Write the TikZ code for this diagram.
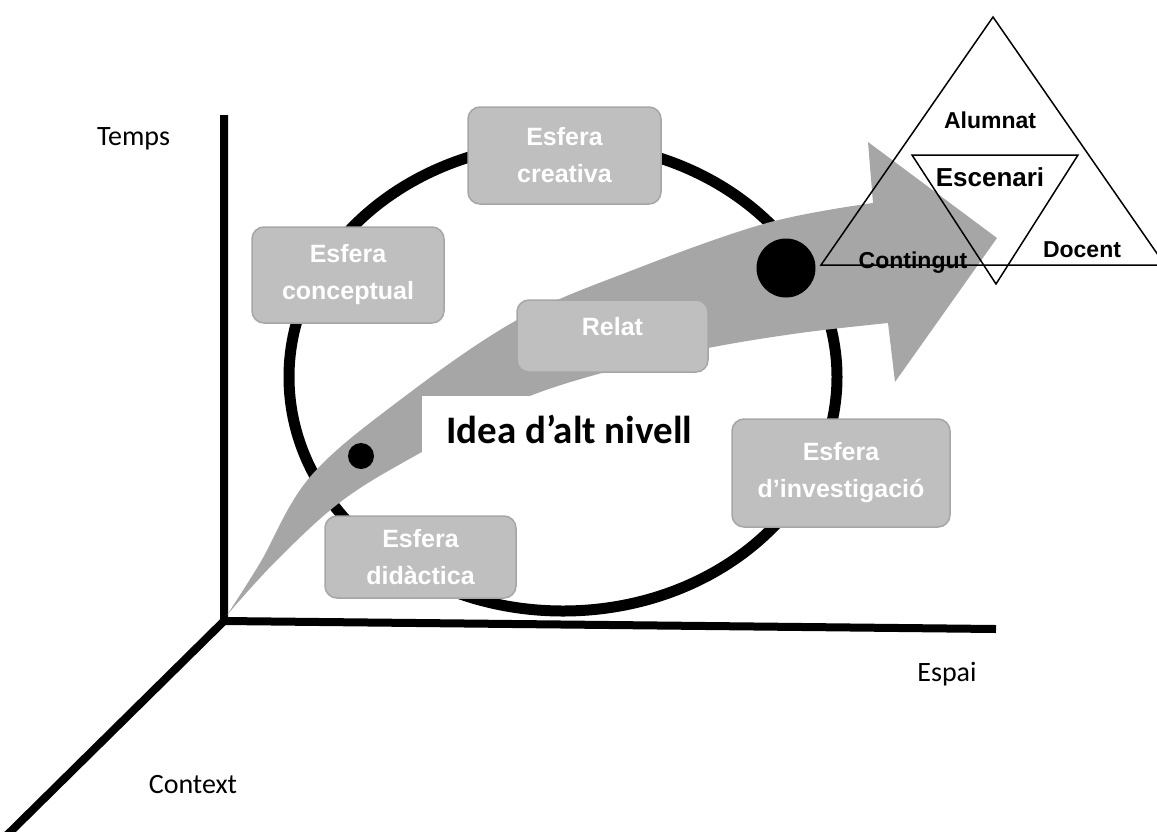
\documentclass[tikz,border=0pt]{standalone}
\usepackage{fontspec}
\setmainfont{Carlito}
\newfontfamily\arialfont{Liberation Sans}
\usepackage{xcolor}
\usepackage{tikz}
\usetikzlibrary{shapes,arrows,positioning}
\definecolor{boxgray}{HTML}{BFBFBF}
\definecolor{boxline}{HTML}{A6A6A6}
\definecolor{flowgray}{HTML}{A6A6A6}

\begin{document}
\begin{tikzpicture}[x=1pt, y=-1pt]
    \tikzstyle{axis} = [line width=8pt, black]
    \tikzstyle{ring} = [line width=11pt, black]
    \tikzstyle{sphere} = [rectangle, rounded corners=12pt, fill=boxgray, draw=boxline, line width=1.5pt, text=white, inner sep=0pt, align=center, font=\arialfont\bfseries\fontsize{25}{37}\selectfont]
    \tikzstyle{axislabel} = [anchor=base, font=\fontsize{28}{34}\selectfont]
    \tikzstyle{dot} = [circle, fill=black, inner sep=0pt]
    \tikzstyle{tri} = [line width=1.5pt, black, line join=miter]
    \tikzstyle{trilabel} = [anchor=base, font=\arialfont\bfseries\fontsize{23}{28}\selectfont]

    \useasboundingbox (0,0) rectangle (1157,831);

    % axes
    \coordinate (origin) at (224,621);
    \coordinate (tempsend) at (224,115);
    \coordinate (espaiend) at (996,629);
    \coordinate (contextend) at (0,842);
    \draw [axis] (tempsend) -- (origin) -- (espaiend);
    \draw [axis] (origin) -- (contextend);

    \node [axislabel] (temps) at (133.5,145) {Temps};
    \node [axislabel] (espai) at (947,681) {Espai};
    \node [axislabel] (context) at (193,793) {Context};

    % cycle of spheres
    \draw [ring] (563,377) ellipse [x radius=274pt, y radius=234pt];

    % flow arrow
    \fill [flowgray] plot [smooth, tension=0.6] coordinates {(227,615) (260,563) (310,477) (400,400) (517,320) (633,270) (767,223) (873,203)}
        -- (868,142) -- (997,238) -- (895,382)
        -- plot [smooth, tension=0.6] coordinates {(888,323) (800,333) (708,348) (620,368) (520,400) (420,453) (343,500) (277,560) (227,615)} -- cycle;

    \node [fill=white, minimum width=294pt, minimum height=67pt, inner sep=0pt, anchor=north west, font=\bfseries\fontsize{39}{47}\selectfont] (idea) at (422,396) {Idea d’alt nivell};

    \node [dot, minimum size=26pt] (startdot) at (361,456) {};
    \node [dot, minimum size=59pt] (enddot) at (786,268) {};

    \node [sphere, minimum width=193pt, minimum height=97pt] (creativa) at (564.5,155.5) {Esfera\\creativa};
    \node [sphere, minimum width=192pt, minimum height=96pt] (conceptual) at (348,275) {Esfera\\conceptual};
    \node [sphere, minimum width=191pt, minimum height=72pt, text height=18pt, text depth=20pt] (relat) at (612.5,336) {Relat};
    \node [sphere, minimum width=218pt, minimum height=108pt] (investigacio) at (841,473) {Esfera\\d’investigació};
    \node [sphere, minimum width=191pt, minimum height=82pt] (didactica) at (420.5,557) {Esfera\\didàctica};

    % triangles
    \coordinate (alumnattop) at (993,17);
    \coordinate (contingutleft) at (821,265);
    \coordinate (docentright) at (1165,265);
    \draw [tri] (alumnattop) -- (contingutleft) -- (docentright) -- cycle;
    \coordinate (scenleft) at (912,155);
    \coordinate (scenright) at (1078,155);
    \coordinate (scenbottom) at (996,284);
    \draw [tri] (scenleft) -- (scenright) -- (scenbottom) -- cycle;

    \node [trilabel] (alumnat) at (990,128) {Alumnat};
    \node [trilabel, font=\arialfont\bfseries\fontsize{26}{31}\selectfont] (escenari) at (990,186) {Escenari};
    \node [trilabel] (docent) at (1082,257) {Docent};
    \node [trilabel] (contingut) at (913,268) {Contingut};
\end{tikzpicture}
\end{document}
